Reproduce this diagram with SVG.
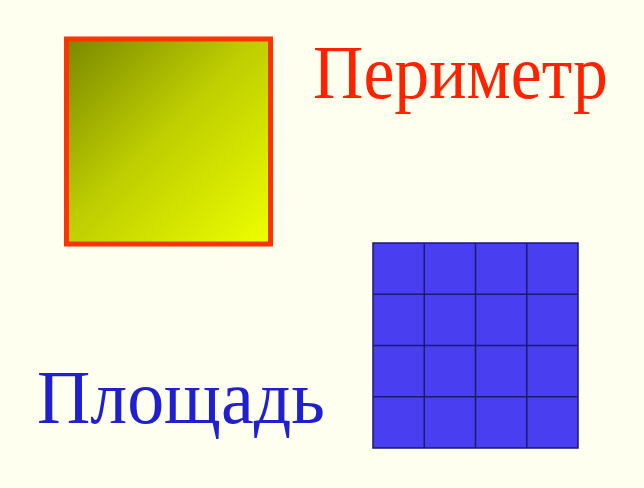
<svg xmlns="http://www.w3.org/2000/svg" width="644" height="488" viewBox="0 0 644 488">
<defs>
<linearGradient id="yg" x1="0" y1="0" x2="1" y2="1">
<stop offset="0" stop-color="#7a8800"/>
<stop offset="0.45" stop-color="#bccc00"/>
<stop offset="1" stop-color="#eeff00"/>
</linearGradient>
</defs>
<style>
.lbl{font-family:"Liberation Serif","Times New Roman",serif;font-size:76px}
.grid line{stroke:#1a1a6e;stroke-width:1.5}
</style>
<rect width="644" height="488" fill="#fffff0"/>
<g id="perimeter-square">
<rect x="66.5" y="39" width="204" height="205" fill="url(#yg)" stroke="#ff3300" stroke-width="5"/>
</g>
<g id="perimeter-label">
<text class="lbl" x="313" y="98" fill="#ff2200" textLength="295" lengthAdjust="spacingAndGlyphs">Периметр</text>
</g>
<g id="area-grid" class="grid">
<rect x="373" y="243" width="205" height="205" fill="#4a3ff0" stroke="#1a1a6e" stroke-width="1.5"/>
<line x1="424.25" y1="243" x2="424.25" y2="448"/>
<line x1="475.5" y1="243" x2="475.5" y2="448"/>
<line x1="526.75" y1="243" x2="526.75" y2="448"/>
<line x1="373" y1="294.25" x2="578" y2="294.25"/>
<line x1="373" y1="345.5" x2="578" y2="345.5"/>
<line x1="373" y1="396.75" x2="578" y2="396.75"/>
</g>
<g id="area-label">
<text class="lbl" x="37" y="423" fill="#2020d0" textLength="288" lengthAdjust="spacingAndGlyphs">Площадь</text>
</g>
</svg>
